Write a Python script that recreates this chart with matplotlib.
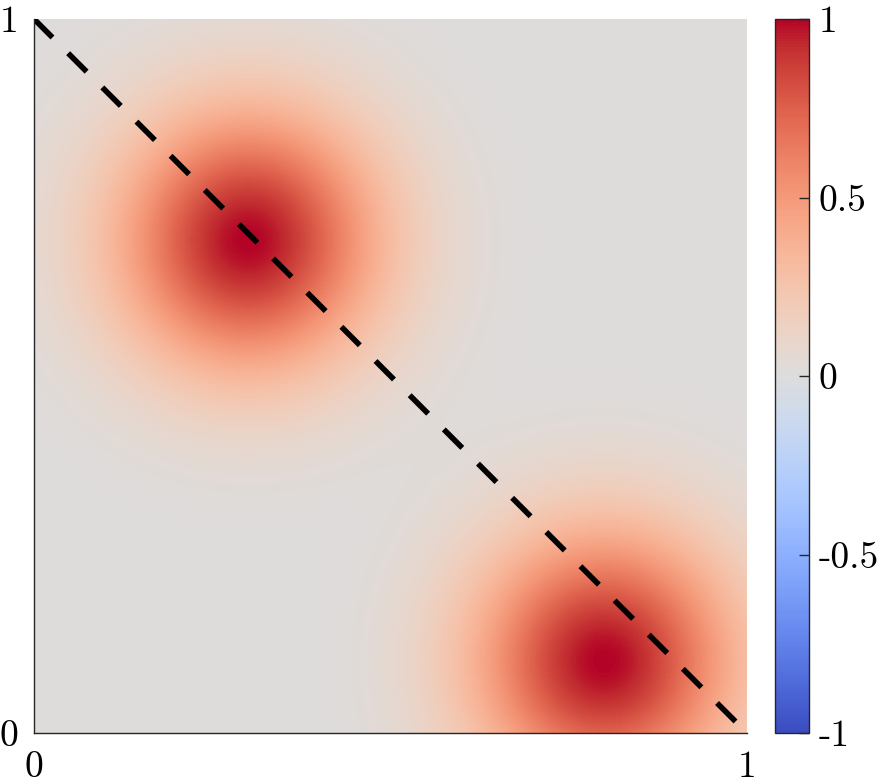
import numpy as np
import matplotlib
matplotlib.use("Agg")
import matplotlib.pyplot as plt

# ---- data ----
blob_x = [0.30, 0.80]        # centres (x)
blob_y = [0.69, 0.10]        # centres (y)
blob_peak = [1.0, 1.0]       # peak values
blob_sigma = [0.13, 0.13]    # widths
line_x = [0.0, 1.0]
line_y = [1.0, 0.0]
cbar_ticks = [-1, -0.5, 0, 0.5, 1]
cbar_labels = ['-1', '-0.5', '0', '0.5', '1']
axis_ticks = [0, 1]
axis_labels = ['0', '1']

plt.rcParams['font.family'] = ['cmr10', 'DejaVu Serif']
plt.rcParams['axes.unicode_minus'] = False

W, H = 883, 784
fig = plt.figure(figsize=(W / 100, H / 100), dpi=100)

def box(x0, y0, x1, y1):
    return [x0 / W, 1 - y1 / H, (x1 - x0) / W, (y1 - y0) / H]

ax = fig.add_axes(box(34, 19, 747, 733))
n = 500
gx = np.linspace(0, 1, n)
X, Y = np.meshgrid(gx, gx)
Z = np.zeros_like(X)
for cx, cy, p, s in zip(blob_x, blob_y, blob_peak, blob_sigma):
    Z += p * np.exp(-((X - cx) ** 2 + (Y - cy) ** 2) / (2 * s ** 2))

im = ax.imshow(Z, extent=[0, 1, 0, 1], origin='lower', cmap='coolwarm',
               vmin=-1, vmax=1, interpolation='bilinear', aspect='auto')
ax.plot(line_x, line_y, color='black', lw=4, linestyle=(0, (4.7, 4.0)),
        solid_capstyle='butt', dash_capstyle='butt')
ax.set_xlim(0, 1)
ax.set_ylim(0, 1)
ax.set_xticks(axis_ticks)
ax.set_xticklabels(axis_labels)
ax.set_yticks(axis_ticks)
ax.set_yticklabels(axis_labels)
ax.tick_params(length=0, labelsize=27, pad=11)
ax.tick_params(axis='x', pad=13)
for side in ['top', 'right']:
    ax.spines[side].set_visible(False)
for side in ['left', 'bottom']:
    ax.spines[side].set_color('#262626')
    ax.spines[side].set_linewidth(1.0)

cax = fig.add_axes(box(775, 19, 809, 733))
cb = fig.colorbar(im, cax=cax, ticks=cbar_ticks)
cb.ax.set_yticklabels(cbar_labels)
cb.ax.tick_params(direction='in', length=7, width=1, labelsize=27, pad=7,
                  color='#262626')
cb.outline.set_linewidth(1.0)
cb.outline.set_edgecolor('#262626')

fig.savefig('out.png', dpi=100)
